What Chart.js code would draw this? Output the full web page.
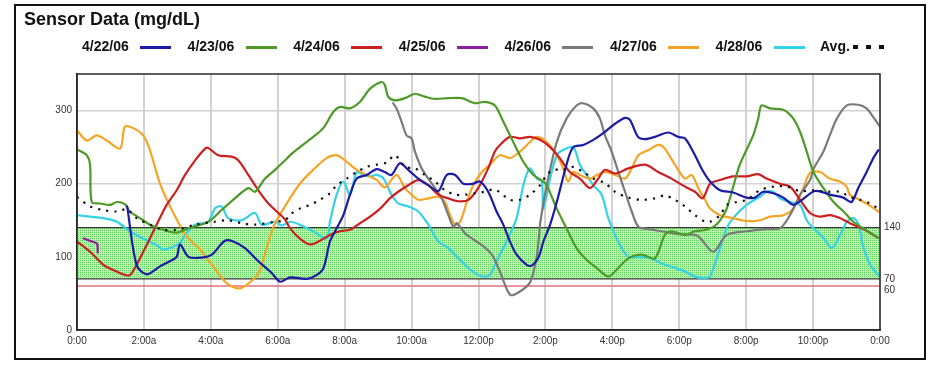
<!DOCTYPE html>
<html>
<head>
<meta charset="utf-8">
<title>Sensor Data (mg/dL)</title>
<script src="https://cdn.jsdelivr.net/npm/chart.js@4.4.1/dist/chart.umd.min.js"></script>
<style>
  html, body { margin: 0; padding: 0; background: #fff; }
  #wrap { position: relative; width: 935px; height: 367px; overflow: hidden;
          font-family: "Liberation Sans", Arial, sans-serif; }
  #frame { position: absolute; left: 14px; top: 4px; width: 912px; height: 356px;
           border: 2px solid #111; box-sizing: border-box; }
  #chart { position: absolute; left: 0; top: 0; }
  #title { position: absolute; left: 24px; top: 9px; font-size: 18px; font-weight: bold;
           color: #111; white-space: nowrap; }
  .lg-text { position: absolute; top: 38px; font-size: 14px; font-weight: bold; color: #111;
             white-space: nowrap; }
  .lg-line { position: absolute; top: 46px; height: 3px; width: 31px; }
  .lg-dot { position: absolute; top: 45px; width: 5px; height: 4px; background: #111; }
</style>
</head>
<body>
<div id="wrap">
  <canvas id="chart" width="935" height="367"></canvas>
  <div id="frame"></div>
  <div id="title">Sensor Data (mg/dL)</div>
</div>
<script>
// Glucose readings per day, as [hour of day, mg/dL]
const day0422 = [[1.5,169],[1.78,89],[2.08,76],[2.48,87],[2.78,94],[2.98,100],[3.08,117],[3.33,100],[3.73,99],[4.03,103],[4.42,122],[4.67,121],[5.02,112],[5.42,94],[5.82,78],[6.07,66],[6.37,72],[6.86,70],[7.16,75],[7.37,85],[7.56,121],[7.76,139],[7.96,157],[8.16,185],[8.36,207],[8.66,212],[8.96,220],[9.2,216],[9.4,212],[9.65,228],[9.9,219],[10.2,207],[10.5,198],[10.8,190],[11.05,212],[11.3,212],[11.55,200],[11.84,200],[12.04,203],[12.29,189],[12.54,162],[12.74,144],[12.94,121],[13.14,103],[13.44,89],[13.59,88],[13.79,99],[13.94,121],[14.14,144],[14.34,175],[14.63,226],[14.83,250],[15.13,253],[15.43,260],[15.78,271],[16.08,282],[16.38,290],[16.53,287],[16.77,264],[16.98,261],[17.27,264],[17.67,270],[17.97,264],[18.17,262],[18.47,239],[18.7,218],[18.92,203],[19.22,191],[19.61,188],[20.01,181],[20.26,181],[20.51,189],[20.81,187],[21.11,181],[21.41,171],[21.61,176],[22.06,190],[22.5,185],[22.9,181],[23.15,175],[23.35,194],[23.6,216],[23.8,235],[23.95,246]];
const day0423 = [[0,247],[0.29,239],[0.39,226],[0.44,175],[0.69,173],[0.99,171],[1.19,175],[1.43,172],[1.58,162],[1.88,153],[2.18,144],[2.58,137],[2.98,133],[3.33,139],[3.93,148],[4.32,164],[4.72,180],[5.12,194],[5.32,189],[5.62,207],[5.92,219],[6.22,232],[6.37,239],[6.66,250],[7.06,264],[7.36,276],[7.66,298],[7.86,305],[8.16,303],[8.46,312],[8.76,330],[9.1,339],[9.2,335],[9.3,319],[9.5,314],[9.8,317],[10.1,323],[10.4,319],[10.7,316],[11.1,317],[11.5,317],[11.9,310],[12.19,312],[12.49,307],[12.74,285],[13.04,257],[13.34,230],[13.64,212],[13.94,203],[14.04,198],[14.34,166],[14.63,139],[14.93,112],[15.23,96],[15.53,85],[15.88,73],[16.08,80],[16.48,98],[16.88,103],[17.27,98],[17.57,130],[17.77,135],[18.17,130],[18.47,135],[18.8,137],[19.05,142],[19.22,150],[19.42,166],[19.81,226],[20.21,266],[20.36,289],[20.46,307],[20.71,303],[21.11,301],[21.41,289],[21.61,271],[21.81,244],[22.01,216],[22.31,194],[22.61,175],[22.91,162],[23.2,148],[23.5,139],[23.95,126]];
const day0424 = [[0,121],[0.39,107],[0.79,89],[1.08,82],[1.38,76],[1.58,75],[1.78,89],[2.08,116],[2.38,144],[2.68,171],[2.98,191],[3.23,212],[3.53,232],[3.83,248],[3.92,249],[4.22,239],[4.62,237],[4.82,232],[5.12,212],[5.42,191],[5.72,173],[6.02,160],[6.22,151],[6.37,139],[6.66,125],[6.96,117],[7.26,122],[7.56,130],[7.86,135],[8.16,137],[8.46,146],[8.76,155],[9.06,166],[9.35,180],[9.6,189],[9.9,198],[10.2,205],[10.5,198],[10.8,185],[11.1,180],[11.4,176],[11.7,178],[11.99,194],[12.29,221],[12.49,244],[12.64,253],[12.94,264],[13.24,262],[13.54,264],[13.84,260],[14.14,250],[14.43,235],[14.73,216],[15.03,207],[15.33,194],[15.55,205],[15.78,219],[16.08,214],[16.48,221],[16.98,226],[17.37,216],[17.77,207],[18.17,196],[18.47,189],[18.7,180],[18.92,200],[19.22,205],[19.61,210],[20.01,210],[20.36,213],[20.61,207],[21.01,200],[21.31,196],[21.61,178],[21.91,160],[22.21,155],[22.5,157],[22.8,153],[23.1,146],[23.5,138],[23.95,126]];
const day0425 = [[0.2,125],[0.45,121],[0.6,118],[0.62,106]];
const day0426 = [[9.45,310],[9.55,303],[9.7,285],[9.85,266],[10.0,262],[10.1,244],[10.3,221],[10.5,207],[10.7,194],[10.9,180],[11.1,157],[11.25,141],[11.35,146],[11.6,132],[11.84,124],[12.1,116],[12.4,103],[12.64,80],[12.95,48],[13.25,53],[13.55,66],[13.75,103],[13.85,148],[14.04,198],[14.34,257],[14.63,289],[14.93,307],[15.13,310],[15.43,303],[15.63,289],[15.78,266],[15.98,244],[16.18,216],[16.38,189],[16.58,162],[16.78,141],[17.08,138],[17.47,135],[17.97,131],[18.47,130],[18.62,126],[19.02,107],[19.42,130],[20.01,135],[20.61,138],[21.01,139],[21.31,157],[21.61,185],[21.91,205],[22.01,220],[22.31,244],[22.5,266],[22.71,289],[23.01,307],[23.35,308],[23.6,303],[23.8,291],[24,278]];
const day0427 = [[0,273],[0.29,259],[0.59,266],[0.89,259],[1.29,248],[1.43,278],[1.68,276],[1.98,266],[2.18,246],[2.48,200],[2.88,160],[3.28,128],[3.68,110],[4.07,87],[4.47,64],[4.87,57],[5.27,69],[5.47,82],[5.87,141],[6.27,173],[6.66,200],[7.06,219],[7.46,235],[7.76,239],[8.06,230],[8.36,219],[8.66,212],[8.96,205],[9.2,195],[9.55,212],[9.8,194],[10.0,185],[10.2,178],[10.5,180],[10.8,182],[11.0,175],[11.15,157],[11.3,144],[11.45,148],[11.65,175],[11.84,198],[12.1,216],[12.34,226],[12.64,239],[12.94,235],[13.24,244],[13.54,257],[13.74,264],[14.04,257],[14.34,239],[14.53,221],[14.68,203],[14.83,216],[15.03,212],[15.33,207],[15.55,212],[15.78,216],[16.08,212],[16.38,207],[16.58,221],[16.78,239],[17.08,246],[17.38,253],[17.57,248],[17.87,226],[18.17,207],[18.37,212],[18.57,194],[18.77,178],[18.92,166],[19.22,157],[19.61,153],[20.01,149],[20.41,150],[20.71,155],[21.11,157],[21.41,166],[21.71,194],[21.91,215],[22.21,216],[22.5,207],[22.8,203],[23.0,196],[23.1,185],[23.3,180],[23.6,173],[23.95,162]];
const day0428 = [[0,157],[0.39,155],[0.79,153],[1.19,148],[1.58,135],[1.98,125],[2.38,116],[2.58,110],[2.78,112],[3.08,119],[3.23,130],[3.53,144],[3.92,148],[4.12,166],[4.32,169],[4.52,153],[4.92,150],[5.32,160],[5.52,144],[5.92,148],[6.12,143],[6.37,148],[6.66,144],[7.06,135],[7.46,125],[7.56,148],[7.76,185],[7.96,203],[8.16,185],[8.36,216],[8.56,212],[8.76,210],[8.96,212],[9.16,207],[9.4,185],[9.6,173],[9.9,169],[10.2,162],[10.5,144],[10.8,121],[11.1,112],[11.4,98],[11.7,85],[11.99,75],[12.19,73],[12.34,75],[12.54,94],[12.84,121],[13.14,153],[13.34,198],[13.54,221],[13.74,207],[13.89,203],[13.94,166],[14.14,207],[14.34,239],[14.53,246],[14.83,250],[15.03,226],[15.23,212],[15.43,198],[15.68,185],[15.88,153],[16.08,130],[16.28,112],[16.48,100],[16.78,100],[17.17,98],[17.47,91],[17.87,85],[18.17,80],[18.47,73],[18.77,71],[18.92,73],[19.22,112],[19.42,139],[19.61,153],[20.01,171],[20.41,182],[20.61,189],[20.81,189],[21.01,180],[21.31,175],[21.61,171],[21.81,150],[22.01,139],[22.31,126],[22.56,112],[22.81,130],[23.01,148],[23.21,153],[23.36,144],[23.51,112],[23.71,89],[23.95,75]];
const dayAvg = [[0,182],[0.39,169],[0.79,164],[1.19,162],[1.49,165],[1.78,153],[2.18,144],[2.58,137],[2.98,137],[3.53,144],[4.12,148],[4.52,150],[4.92,146],[5.32,144],[5.92,148],[6.22,150],[6.37,158],[6.66,166],[6.96,171],[7.26,178],[7.56,187],[7.76,198],[8.06,207],[8.36,216],[8.66,223],[8.96,226],[9.26,229],[9.5,239],[9.8,223],[10.1,221],[10.4,212],[10.7,203],[11.0,191],[11.3,185],[11.6,185],[11.9,187],[12.19,189],[12.49,192],[12.94,178],[13.24,178],[13.54,185],[13.84,198],[14.04,212],[14.24,219],[14.53,219],[14.83,223],[15.13,216],[15.43,207],[15.78,201],[16.08,189],[16.48,181],[16.88,178],[17.27,180],[17.57,184],[17.87,178],[18.17,169],[18.47,157],[18.77,148],[18.92,148],[19.22,157],[19.42,171],[19.72,175],[20.01,178],[20.41,191],[20.81,196],[21.21,196],[21.61,190],[22.01,191],[22.41,189],[22.8,189],[23.1,182],[23.4,178],[23.7,173],[23.95,166]];

// Series names and colours
const dayNames  = ['4/22/06','4/23/06','4/24/06','4/25/06','4/26/06','4/27/06','4/28/06'];
const dayColors = ['#1b1ba6','#4e9a28','#cc2020','#8e1c9e','#7a7a7a','#f5a425','#34d2e6'];
const daySeries = [day0422, day0423, day0424, day0425, day0426, day0427, day0428];
const avgName = 'Avg.';

// Axis ticks
const hourTicks = [0,2,4,6,8,10,12,14,16,18,20,22,24];
const timeLabels = ['0:00','2:00a','4:00a','6:00a','8:00a','10:00a','12:00p','2:00p','4:00p','6:00p','8:00p','10:00p','0:00'];
const glucoseTicks = [0,100,200,300];

// Target range and low limit (mg/dL)
const targetHigh = 140;
const targetLow = 70;
const lowLimit = 60;

const toXY = arr => arr.map(p => ({ x: p[0], y: p[1] }));

// Legend
const wrap = document.getElementById('wrap');
dayNames.forEach((name, i) => {
  const left = 82 + i * 105.6;
  const t = document.createElement('div');
  t.className = 'lg-text'; t.style.left = left + 'px'; t.textContent = name;
  wrap.appendChild(t);
  const l = document.createElement('div');
  l.className = 'lg-line'; l.style.left = (left + 58) + 'px'; l.style.background = dayColors[i];
  wrap.appendChild(l);
});
(function () {
  const t = document.createElement('div');
  t.className = 'lg-text'; t.style.left = '820px'; t.textContent = avgName;
  wrap.appendChild(t);
  [853, 866, 879].forEach(x => {
    const d = document.createElement('div');
    d.className = 'lg-dot'; d.style.left = x + 'px';
    wrap.appendChild(d);
  });
})();

// Stippled green fill for the target range
function stipple() {
  const c = document.createElement('canvas');
  c.width = 2; c.height = 2;
  const g = c.getContext('2d');
  g.fillStyle = '#b9f1b0'; g.fillRect(0, 0, 2, 2);
  g.fillStyle = '#5fcf5a'; g.fillRect(0, 0, 1, 1);
  return g.createPattern(c, 'repeat');
}

const rangePlugin = {
  id: 'targetRange',
  beforeDatasetsDraw(chart) {
    const { ctx, chartArea: a, scales: { y } } = chart;
    const yHi = y.getPixelForValue(targetHigh);
    const yLo = y.getPixelForValue(targetLow);
    const yLim = y.getPixelForValue(lowLimit);
    ctx.save();
    ctx.fillStyle = stipple();
    ctx.fillRect(a.left, yHi, a.right - a.left, yLo - yHi);
    ctx.lineWidth = 1.2;
    ctx.strokeStyle = '#3a3a3a';
    ctx.beginPath();
    ctx.moveTo(a.left, yHi); ctx.lineTo(a.right, yHi);
    ctx.moveTo(a.left, yLo); ctx.lineTo(a.right, yLo);
    ctx.stroke();
    ctx.strokeStyle = '#e07078';
    ctx.lineWidth = 1.5;
    ctx.beginPath();
    ctx.moveTo(a.left, yLim); ctx.lineTo(a.right, yLim);
    ctx.stroke();
    ctx.fillStyle = '#333';
    ctx.font = '10px "Liberation Sans", Arial, sans-serif';
    ctx.textAlign = 'left';
    ctx.textBaseline = 'middle';
    ctx.fillText(String(targetHigh), a.right + 4, yHi);
    ctx.fillText(String(targetLow), a.right + 4, yLo);
    ctx.fillText(String(lowLimit), a.right + 4, yLim + 4);
    ctx.restore();
  },
  afterDraw(chart) {
    const { ctx, chartArea: a } = chart;
    ctx.save();
    ctx.strokeStyle = '#2a2a2a';
    ctx.lineWidth = 1.5;
    ctx.strokeRect(a.left, a.top, a.right - a.left, a.bottom - a.top);
    ctx.restore();
  }
};

const datasets = [{
  label: avgName,
  data: toXY(dayAvg),
  borderColor: '#111',
  borderWidth: 2.2,
  borderDash: [2.2, 6],
  borderCapStyle: 'butt',
  tension: 0.3
}].concat(daySeries.map((s, i) => ({
  label: dayNames[i],
  data: toXY(s),
  borderColor: dayColors[i],
  borderWidth: 2.2,
  borderCapStyle: 'round',
  tension: 0.3
})));

const tickFont = { family: '"Liberation Sans", Arial, sans-serif', size: 10 };

new Chart(document.getElementById('chart'), {
  type: 'line',
  data: { datasets },
  options: {
    responsive: false,
    animation: false,
    layout: { padding: { left: 50, right: 55, top: 74, bottom: 17 } },
    elements: { point: { radius: 0 }, line: { borderJoinStyle: 'round' } },
    plugins: { legend: { display: false }, tooltip: { enabled: false } },
    scales: {
      x: {
        type: 'linear', min: 0, max: 24,
        afterBuildTicks: s => { s.ticks = hourTicks.map(v => ({ value: v })); },
        afterFit: s => { s.height = 20; },
        grid: { color: '#d2d2d2', lineWidth: 2, drawTicks: false },
        border: { color: '#222', width: 1.5 },
        ticks: { padding: 5, font: tickFont, color: '#333', maxRotation: 0, autoSkip: false,
                 callback: (v, i) => timeLabels[i] }
      },
      y: {
        min: 0, max: 350,
        afterBuildTicks: s => { s.ticks = glucoseTicks.map(v => ({ value: v })); },
        afterFit: s => { s.width = 27; },
        grid: { color: '#d2d2d2', lineWidth: 1.5, drawTicks: false },
        border: { color: '#222', width: 1.5 },
        ticks: { padding: 5, font: tickFont, color: '#333' }
      }
    }
  },
  plugins: [rangePlugin]
});
</script>
</body>
</html>
